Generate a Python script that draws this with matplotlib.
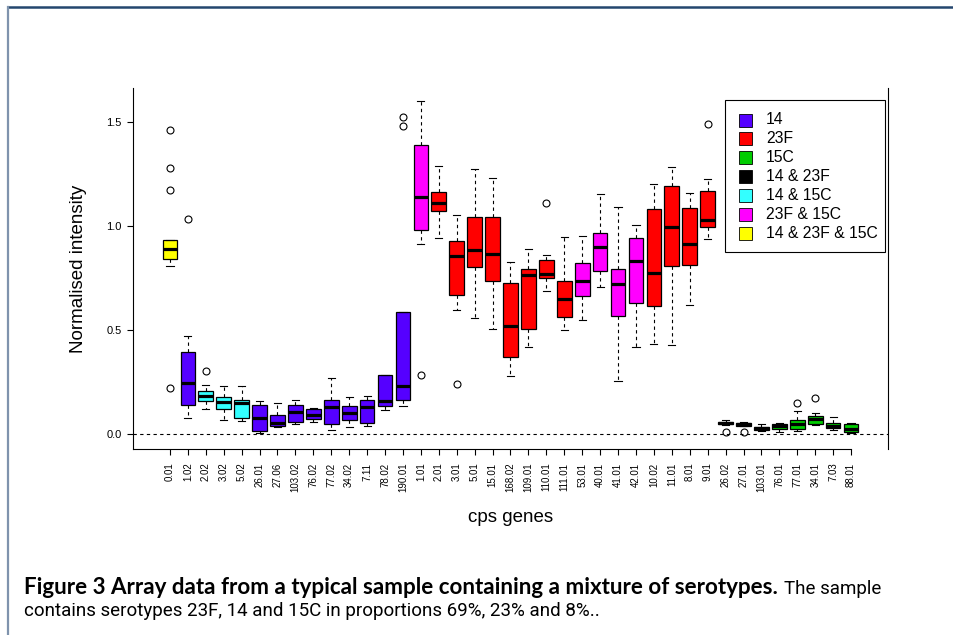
import matplotlib
matplotlib.use("Agg")
import matplotlib.pyplot as plt
from matplotlib import font_manager
from matplotlib.patches import Rectangle
from matplotlib.lines import Line2D

# cps genes along the x axis
genes = ["0.01", "1.02", "2.02", "3.02", "5.02", "26.01", "27.06", "103.02",
         "76.02", "77.02", "34.02", "7.11", "78.02", "190.01",
         "1.01", "2.01", "3.01", "5.01", "15.01", "168.02", "109.01", "110.01",
         "111.01", "53.01", "40.01", "41.01", "42.01", "10.02", "11.01", "8.01", "9.01",
         "26.02", "27.01", "103.01", "76.01", "77.01", "34.01", "7.03", "88.01"]

# serotype group of each gene
groups = ["14 & 23F & 15C", "14", "14 & 15C", "14 & 15C", "14 & 15C",
          "14", "14", "14", "14", "14", "14", "14", "14", "14",
          "23F & 15C", "23F", "23F", "23F", "23F", "23F", "23F", "23F",
          "23F", "23F & 15C", "23F & 15C", "23F & 15C", "23F & 15C",
          "23F", "23F", "23F", "23F",
          "15C", "15C", "15C", "15C", "15C", "15C", "15C", "15C"]

# box statistics (normalised intensity)
q1 = [0.841, 0.139, 0.159, 0.122, 0.078, 0.013, 0.040, 0.059,
      0.074, 0.048, 0.069, 0.054, 0.135, 0.162,
      0.982, 1.071, 0.667, 0.805, 0.737, 0.369, 0.505, 0.748,
      0.564, 0.663, 0.782, 0.569, 0.628, 0.614, 0.806, 0.814, 0.995,
      0.046, 0.040, 0.018, 0.026, 0.024, 0.050, 0.027, 0.008]
med = [0.888, 0.247, 0.183, 0.152, 0.147, 0.077, 0.054, 0.107,
       0.091, 0.130, 0.103, 0.130, 0.159, 0.229,
       1.141, 1.112, 0.857, 0.885, 0.867, 0.519, 0.764, 0.768,
       0.651, 0.737, 0.901, 0.723, 0.833, 0.774, 0.997, 0.915, 1.030,
       0.054, 0.046, 0.027, 0.037, 0.050, 0.070, 0.040, 0.023]
q3 = [0.933, 0.393, 0.205, 0.176, 0.162, 0.138, 0.091, 0.138,
      0.119, 0.163, 0.135, 0.162, 0.284, 0.588,
      1.389, 1.165, 0.928, 1.043, 1.042, 0.728, 0.796, 0.835,
      0.734, 0.824, 0.965, 0.793, 0.944, 1.082, 1.192, 1.088, 1.168,
      0.059, 0.054, 0.035, 0.046, 0.067, 0.085, 0.053, 0.048]
whislo = [0.810, 0.078, 0.120, 0.066, 0.062, 0.003, 0.034, 0.047,
          0.056, 0.019, 0.035, 0.040, 0.115, 0.133,
          0.915, 0.942, 0.596, 0.558, 0.503, 0.279, 0.417, 0.688,
          0.500, 0.548, 0.708, 0.256, 0.420, 0.433, 0.429, 0.622, 0.938,
          0.044, 0.040, 0.014, 0.010, 0.014, 0.043, 0.019, 0.006]
whishi = [0.933, 0.471, 0.234, 0.229, 0.232, 0.157, 0.149, 0.165,
          0.127, 0.269, 0.176, 0.181, 0.284, 0.588,
          1.603, 1.287, 1.051, 1.274, 1.231, 0.829, 0.888, 0.862,
          0.946, 0.952, 1.155, 1.093, 1.003, 1.202, 1.284, 1.160, 1.224,
          0.069, 0.059, 0.050, 0.054, 0.109, 0.101, 0.080, 0.053]
outliers = [[1.460, 1.280, 1.175, 0.223], [1.034], [0.303], [], [], [], [], [],
            [], [], [], [], [], [1.526, 1.482],
            [0.282], [], [0.242], [], [], [], [], [1.112],
            [], [], [], [], [], [], [], [], [1.489],
            [0.008], [0.010], [], [], [0.149], [0.171], [], []]

legend_labels = ["14", "23F", "15C", "14 & 23F", "14 & 15C", "23F & 15C", "14 & 23F & 15C"]
legend_colors = ["#5500FF", "#FF0000", "#00CC00", "#000000", "#33FFFF", "#FF00FF", "#FFFF00"]
yticks = [0.0, 0.5, 1.0, 1.5]

plt.rcParams["font.family"] = ["Liberation Sans", "DejaVu Sans"]

W, H = 954, 635
fig = plt.figure(figsize=(W / 100, H / 100), dpi=100)


def fx(px):
    return px / W


def fy(py):
    return 1 - py / H


ax = fig.add_axes([fx(133), fy(449), (888 - 133) / W, (449 - 88) / H])

color_of = dict(zip(legend_labels, legend_colors))
stats = []
for i, g in enumerate(genes):
    stats.append(dict(label=g, med=med[i], q1=q1[i], q3=q3[i],
                      whislo=whislo[i], whishi=whishi[i], fliers=outliers[i]))

positions = list(range(1, len(genes) + 1))
bp = ax.bxp(stats, positions=positions, widths=0.82, capwidths=0.4,
            patch_artist=True, showfliers=True,
            boxprops=dict(edgecolor="black", linewidth=0.9),
            medianprops=dict(color="black", linewidth=2.3, solid_capstyle="butt"),
            whiskerprops=dict(color="black", linewidth=0.8, linestyle=(0, (3, 3))),
            capprops=dict(color="black", linewidth=0.8),
            flierprops=dict(marker="o", markerfacecolor="none",
                            markeredgecolor="black", markersize=5, markeredgewidth=0.8))
for patch, g in zip(bp["boxes"], groups):
    patch.set_facecolor(color_of[g])

ax.axhline(0, color="black", linewidth=0.8, linestyle=(0, (3, 3)), zorder=0.5)

ax.set_xlim(-1.06, len(genes) + 2.06)
ax.set_ylim(-0.072, 1.664)
ax.set_yticks(yticks)
ax.set_yticklabels([f"{v:.1f}" for v in yticks])
ax.set_xticks(positions)
ax.set_xticklabels(genes, rotation=90)
ax.tick_params(axis="x", length=4.3, width=0.8, labelsize=7, pad=5.5)
ax.tick_params(axis="y", length=4.3, width=0.8, labelsize=8, pad=4)

ax.spines["top"].set_visible(False)
for s in ("left", "bottom", "right"):
    ax.spines[s].set_linewidth(0.8)
ax.spines["bottom"].set_bounds(-1.06, len(genes))

ax.set_ylabel("Normalised intensity", fontsize=13.5, va="center")
ax.yaxis.set_label_coords((79 - 133) / 755, 0.5)
ax.set_xlabel("cps genes", fontsize=13.5, va="center")
ax.xaxis.set_label_coords(0.5, (449 - 517) / 361)

# legend box
fig.add_artist(Rectangle((fx(725), fy(252)), (885 - 725) / W, (252 - 100) / H,
                         transform=fig.transFigure, facecolor="white",
                         edgecolor="black", linewidth=0.8))
for k, (lab, col) in enumerate(zip(legend_labels, legend_colors)):
    yc = 120 + k * 18.9
    fig.add_artist(Rectangle((fx(739), fy(yc + 6.5)), 13 / W, 13 / H,
                             transform=fig.transFigure, facecolor=col,
                             edgecolor="black", linewidth=0.6))
    fig.text(fx(766), fy(yc), lab, fontsize=11.3, va="center", ha="left")

# page frame
fig.add_artist(Line2D([fx(8), 1], [fy(7), fy(7)], transform=fig.transFigure,
                      color="#24466E", linewidth=1.8))
fig.add_artist(Line2D([fx(8.5), fx(8.5)], [fy(7), 0], transform=fig.transFigure,
                      color="#7F93AD", linewidth=1.6))

# caption: bold lead-in, then narrower regular text
installed = {f.name for f in font_manager.fontManager.ttflist}
bold_font = ["Lato", "DejaVu Sans"]
reg_font = ["Liberation Sans Narrow"] if "Liberation Sans Narrow" in installed else ["Roboto"]
reg_font = reg_font + ["DejaVu Sans"]

renderer = fig.canvas.get_renderer()
bold_part = "Figure 3 Array data from a typical sample containing a mixture of serotypes."
t1 = fig.text(fx(24), fy(594), bold_part, fontsize=12, fontweight="bold",
              family=bold_font, va="baseline")
w = t1.get_window_extent(renderer).width
t1.set_fontsize(12 * (773 - 24) / w)

line2 = "contains serotypes 23F, 14 and 15C in proportions 69%, 23% and 8%.."
t3 = fig.text(fx(24), fy(616), line2, fontsize=12, family=reg_font, va="baseline")
w = t3.get_window_extent(renderer).width
reg_size = 12 * (598 - 24) / w
t3.set_fontsize(reg_size)

bb = t1.get_window_extent(renderer)
fig.text(bb.x1 / W + 6 / W, fy(594), "The sample", fontsize=reg_size,
         family=reg_font, va="baseline")

fig.savefig("out.png", dpi=100)
